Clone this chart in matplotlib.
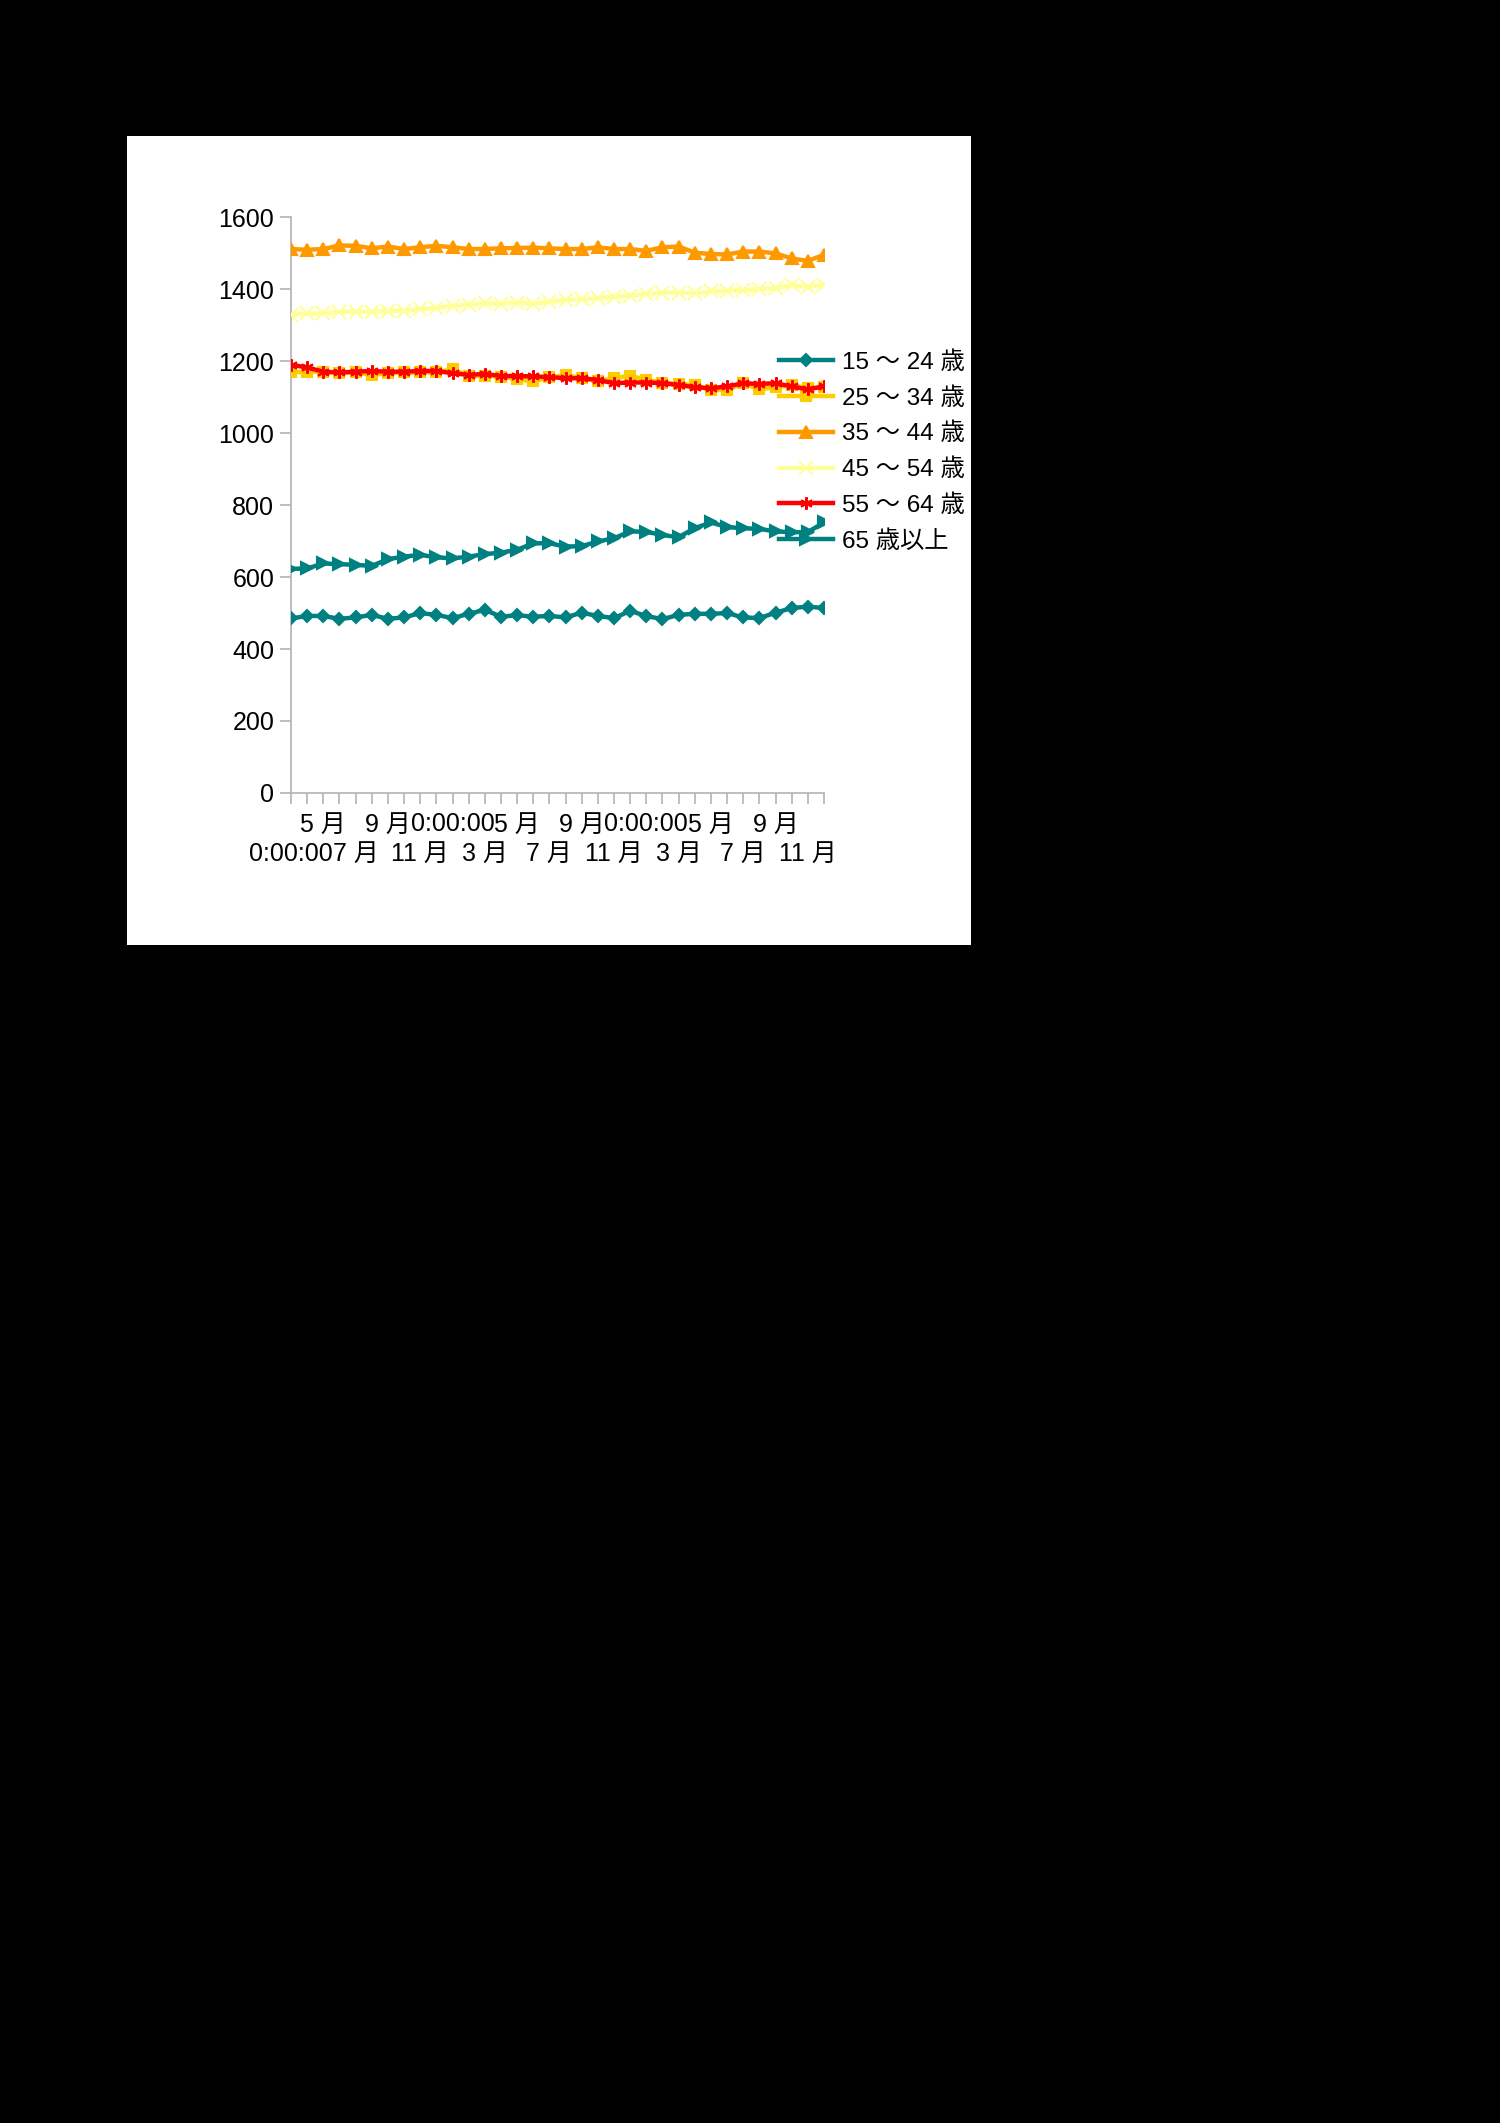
import matplotlib
matplotlib.use("Agg")
import matplotlib.pyplot as plt
from matplotlib.patches import Rectangle

plt.rcParams['font.family'] = ['Liberation Sans', 'Noto Sans CJK JP', 'DejaVu Sans']

# monthly values, 34 months
months = list(range(34))
tick_text = ["0:00:00", "5 月", "7 月", "9 月", "11 月", "0:00:00", "3 月", "5 月", "7 月",
             "9 月", "11 月", "0:00:00", "3 月", "5 月", "7 月", "9 月", "11 月"]

age15_24 = [485, 492, 492, 484, 488, 495, 484, 488, 500, 495, 486, 498, 509, 490, 494, 490, 492,
            488, 501, 492, 486, 506, 492, 483, 495, 498, 498, 500, 488, 486, 501, 514, 518, 514]
age25_34 = [1169, 1171, 1171, 1167, 1169, 1162, 1167, 1169, 1169, 1169, 1178, 1159, 1159, 1157, 1150, 1144, 1155,
            1162, 1153, 1144, 1153, 1160, 1148, 1141, 1137, 1134, 1120, 1120, 1139, 1122, 1128, 1134, 1125, 1128]
age35_44 = [1512, 1510, 1512, 1522, 1521, 1514, 1519, 1512, 1517, 1521, 1517, 1512, 1512, 1514, 1515, 1516, 1514,
            1512, 1512, 1517, 1512, 1512, 1507, 1517, 1519, 1502, 1498, 1497, 1505, 1505, 1500, 1486, 1479, 1496]
age45_54 = [1329, 1333, 1333, 1338, 1338, 1338, 1340, 1340, 1345, 1349, 1354, 1357, 1361, 1360, 1363, 1360, 1365,
            1371, 1372, 1375, 1380, 1382, 1387, 1391, 1391, 1389, 1394, 1396, 1398, 1401, 1403, 1412, 1406, 1413]
age55_64 = [1190, 1183, 1171, 1169, 1171, 1173, 1171, 1171, 1173, 1173, 1167, 1162, 1165, 1159, 1159, 1158, 1156,
            1153, 1153, 1148, 1139, 1141, 1141, 1139, 1134, 1128, 1125, 1130, 1139, 1137, 1139, 1130, 1122, 1130]
age65 = [623, 624, 638, 636, 634, 631, 650, 657, 662, 655, 652, 657, 664, 668, 676, 694, 694,
         685, 686, 699, 708, 727, 726, 717, 711, 736, 752, 739, 736, 734, 727, 725, 725, 752]

series = [
    ("15 ～ 24 歳", age15_24, "#008080", "D", 6.5),
    ("25 ～ 34 歳", age25_34, "#ffcc00", "s", 7.5),
    ("35 ～ 44 歳", age35_44, "#ff9900", "^", 8),
    ("45 ～ 54 歳", age45_54, "#ffff99", "x", 10.5),
    ("55 ～ 64 歳", age55_64, "#ff0000", (6, 2, 0), 9),
    ("65 歳以上", age65, "#008080", ">", 8.5),
]

fig = plt.figure(figsize=(15, 21.23), dpi=100, facecolor="black")
fig.patches.append(Rectangle((127 / 1500, 1 - 945 / 2123), 844 / 1500, 809 / 2123,
                             transform=fig.transFigure, facecolor="white", edgecolor="none", zorder=-1))

ax = fig.add_axes([0.194, 0.6265, 0.3553, 0.2711])
ax.set_facecolor("none")

for name, vals, col, mk, ms in series:
    ax.plot(months, vals, color=col, lw=3.2, marker=mk, markersize=ms, markeredgewidth=1.5,
            markerfacecolor=col, markeredgecolor=col, label=name, zorder=3)

ax.set_xlim(0, 33)
ax.set_ylim(0, 1600)
ax.set_yticks(range(0, 1601, 200))

# labels every 2 months, alternating rows
labels = []
for i in months:
    if i % 2 == 1:
        labels.append("")
    else:
        k = i // 2
        txt = tick_text[k]
        labels.append("\n" + txt if k % 2 == 0 else txt)
ax.set_xticks(months)
ax.set_xticklabels(labels, linespacing=1.3)

for s in ["top", "right"]:
    ax.spines[s].set_visible(False)
for s in ["left", "bottom"]:
    ax.spines[s].set_color("#b3b3b3")
    ax.spines[s].set_linewidth(1.2)
ax.tick_params(axis="both", colors="#b3b3b3", labelcolor="black", labelsize=18, length=8, width=1.2)
ax.tick_params(axis="y", pad=4)
ax.tick_params(axis="x", pad=6)

leg = ax.legend(loc="upper left", bbox_to_anchor=(0.519, 0.8345), bbox_transform=fig.transFigure,
                frameon=False, fontsize=17.5, handlelength=2.25, handletextpad=0.35,
                labelspacing=0.54, borderpad=0, borderaxespad=0)
leg.set_zorder(1)

fig.savefig("out.png", dpi=100, facecolor="black")
